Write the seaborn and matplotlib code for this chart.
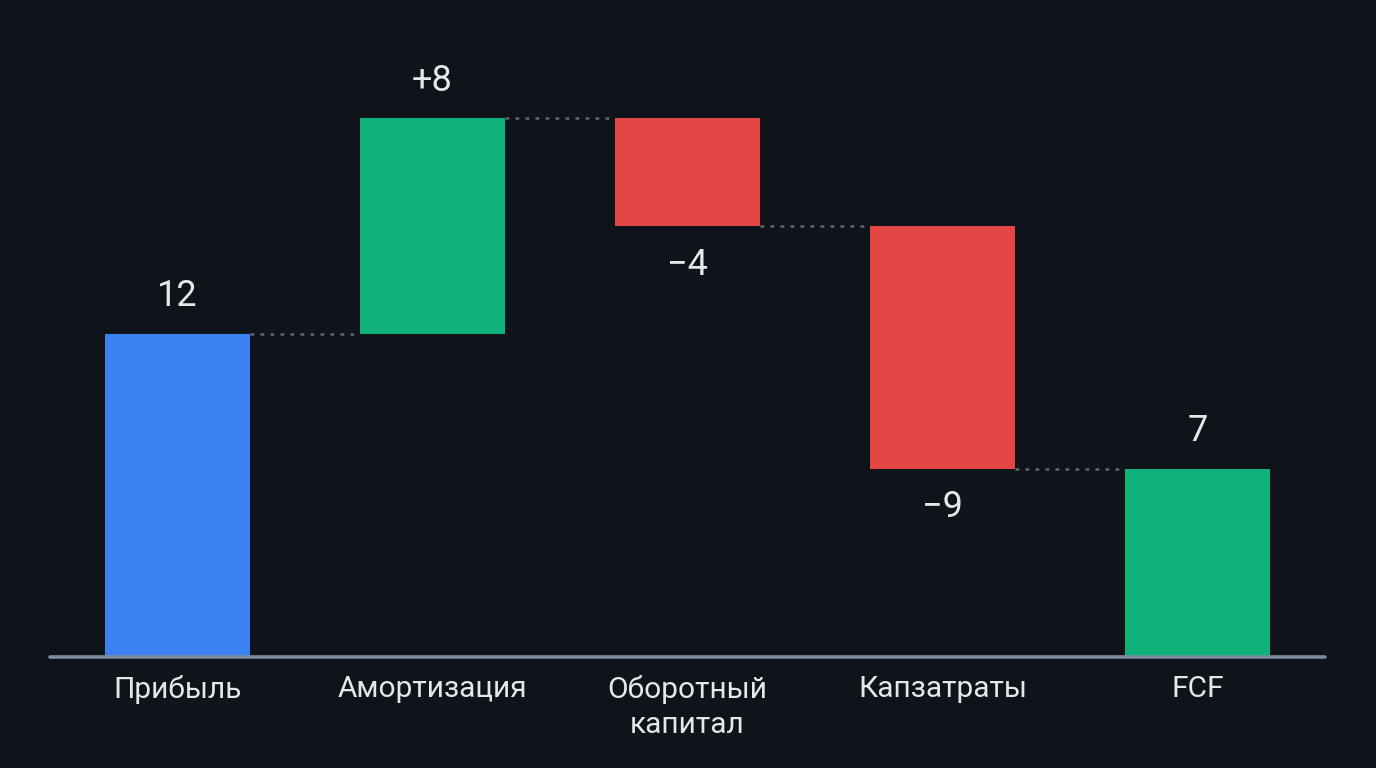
import matplotlib
matplotlib.use("Agg")
import matplotlib.pyplot as plt
import seaborn as sns
import numpy as np
import pandas as pd

categories = ["Прибыль", "Амортизация", "Оборотный\nкапитал", "Капзатраты", "FCF"]
values = [12, 8, -4, -9, 7]
labels = ["12", "+8", "−4", "−9", "7"]
kinds = ["total", "delta", "delta", "delta", "total"]

BG = "#0f131a"
BLUE = "#3b82f0"
GREEN = "#10b27c"
RED = "#e44646"
TEXT = "#e4e7ec"
BASE = "#7d8aa0"
DOT = "#5f6877"

# compute floating bars
bottoms, heights, colors, levels = [], [], [], []
running = 0
for i, (v, k) in enumerate(zip(values, kinds)):
    if k == "total":
        bottoms.append(0)
        heights.append(v)
        running = v
        colors.append(BLUE if i == 0 else GREEN)
    else:
        if v >= 0:
            bottoms.append(running)
            heights.append(v)
            colors.append(GREEN)
        else:
            bottoms.append(running + v)
            heights.append(-v)
            colors.append(RED)
        running += v
    levels.append(running)

df = pd.DataFrame({"cat": categories, "h": heights, "b": bottoms})

sns.set_theme(style="dark")
plt.rcParams["font.family"] = ["Roboto", "DejaVu Sans"]

fig = plt.figure(figsize=(13.76, 7.68), dpi=100, facecolor=BG)
ax = fig.add_axes([50 / 1376, (768 - 657) / 768, 1275 / 1376, 657 / 768])
ax.set_facecolor(BG)

sns.barplot(data=df, x="cat", y="h", bottom=df["b"].values, width=0.57,
            color=BLUE, ax=ax, errorbar=None, saturation=1)
for p, c in zip(ax.patches, colors):
    p.set_facecolor(c)
    p.set_edgecolor("none")

ax.set_xlim(-0.5, 4.5)
ax.set_ylim(0, 24.4)

# connectors
hw = 0.57 / 2
for i, L in enumerate(levels[:-1]):
    ax.plot([i + hw, i + 1 - hw], [L, L], color=DOT, lw=1.8,
            linestyle=(0, (1.5, 2.5)), solid_capstyle="butt")

# value labels
for i, (lab, v) in enumerate(zip(labels, values)):
    top = bottoms[i] + heights[i]
    if v >= 0:
        ax.annotate(lab, (i, top), xytext=(0, 27), textcoords="offset points",
                    ha="center", va="center", fontsize=26, color=TEXT)
    else:
        ax.annotate(lab, (i, bottoms[i]), xytext=(0, -28), textcoords="offset points",
                    ha="center", va="center", fontsize=26, color=TEXT)

ax.axhline(0, color=BASE, lw=2.6, clip_on=False, zorder=5)

ax.set_xlabel("")
ax.set_ylabel("")
ax.set_yticks([])
ax.tick_params(axis="x", length=0, pad=13, labelsize=21.5, labelcolor=TEXT)
for t in ax.get_xticklabels():
    t.set_linespacing(1.3)
for s in ax.spines.values():
    s.set_visible(False)
ax.grid(False)

fig.savefig("out.png", dpi=100, facecolor=BG)
